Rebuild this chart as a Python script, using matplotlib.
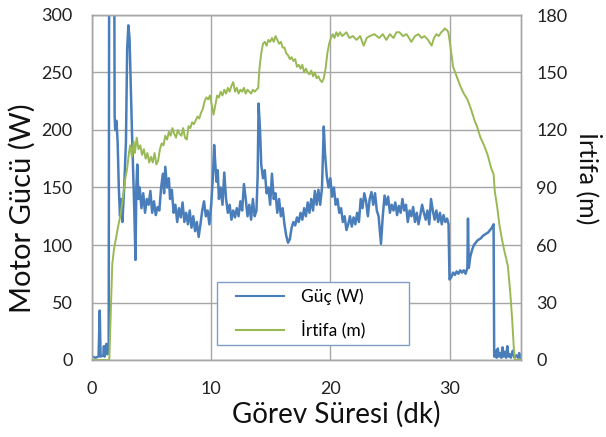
import matplotlib

matplotlib.use("Agg")
import matplotlib.pyplot as plt
from matplotlib.legend_handler import HandlerLine2D

plt.rcParams["font.family"] = ["Lato", "DejaVu Sans"]

BLUE = "#4A7EBB"
GREEN = "#98B954"
GRID = "#A6A6A6"

# Motor power (W) vs mission time (min)
power_t = [
    0.0, 0.3, 0.55, 0.65, 0.72, 0.95, 1.0, 1.05, 1.2, 1.28, 1.4, 1.45, 1.85, 1.9,
    1.95, 2.05, 2.15, 2.25, 2.35, 2.45, 2.55, 2.7, 2.85, 2.95, 3.05, 3.15, 3.25,
    3.35, 3.45, 3.55, 3.65, 3.72, 3.8, 3.9,
    4.0, 4.15, 4.3, 4.45, 4.6, 4.75, 4.9, 5.05, 5.2, 5.35, 5.5, 5.65, 5.8, 5.95,
    6.05, 6.15, 6.3, 6.45, 6.55, 6.7, 6.85, 7.0, 7.15, 7.3, 7.45, 7.6, 7.75, 7.9,
    8.05, 8.2, 8.35, 8.5, 8.65, 8.8, 8.95, 9.1, 9.25, 9.4, 9.55, 9.7, 9.85,
    10.0, 10.15, 10.25, 10.35, 10.45, 10.55, 10.65, 10.8, 10.95, 11.1, 11.25,
    11.4, 11.55, 11.7, 11.85, 12.0, 12.15, 12.3, 12.45, 12.6, 12.75, 12.9,
    13.05, 13.2, 13.35, 13.5, 13.65, 13.8, 13.9, 13.98, 14.1, 14.2, 14.35, 14.5,
    14.65, 14.8, 14.95, 15.1, 15.25, 15.4, 15.55, 15.7, 15.85, 16.0, 16.15,
    16.3, 16.45, 16.6, 16.75, 16.9, 17.05, 17.2, 17.35, 17.5, 17.65, 17.8,
    17.95, 18.1, 18.25, 18.4, 18.55, 18.7, 18.85, 19.0, 19.15, 19.3, 19.45,
    19.55, 19.7, 19.85, 20.0, 20.15, 20.3, 20.45, 20.6, 20.75, 20.9, 21.05,
    21.2, 21.35, 21.5, 21.65, 21.8, 21.95, 22.1, 22.25, 22.4, 22.55, 22.7,
    22.85, 23.0, 23.15, 23.3, 23.45, 23.6, 23.75, 23.9, 24.05, 24.25, 24.4,
    24.55, 24.7, 24.85, 25.0, 25.15, 25.3, 25.45, 25.6, 25.75, 25.9, 26.05,
    26.2, 26.35, 26.5, 26.65, 26.8, 26.95, 27.1, 27.25, 27.4, 27.55, 27.7,
    27.85, 28.0, 28.15, 28.3, 28.45, 28.6, 28.75, 28.9, 29.05, 29.2, 29.35,
    29.5, 29.65, 29.8, 29.92, 30.0, 30.15, 30.3, 30.45, 30.6, 30.75, 30.9,
    31.05, 31.2, 31.35, 31.5, 31.55, 31.62, 31.75, 31.9, 32.05, 32.2, 32.35,
    32.5, 32.65, 32.8, 32.95, 33.1, 33.25, 33.4, 33.55, 33.7, 33.75, 33.85,
    33.95, 34.05, 34.15, 34.25, 34.35, 34.45, 34.55, 34.65, 34.75, 34.85,
    34.95, 35.05, 35.15, 35.3, 35.45, 35.6, 35.75, 35.85, 35.95,
]
power_w = [
    3, 2, 3, 43, 3, 4, 12, 3, 14, 5, 8, 420, 420, 212,
    200, 208, 190, 150, 125, 140, 120, 150, 190, 270, 291, 280, 240,
    200, 165, 130, 87, 150, 170, 140,
    150, 132, 145, 128, 140, 135, 147, 128, 138, 126, 133, 130, 150, 162,
    145, 168, 150, 158, 140, 148, 128, 135, 120, 132, 124, 137, 120, 128,
    118, 130, 115, 125, 112, 120, 107, 118, 130, 138, 125, 130, 118,
    135, 160, 187, 170, 155, 165, 140, 150, 135, 163, 140,
    128, 135, 122, 130, 124, 132, 125, 138, 130, 153, 140,
    125, 135, 122, 140, 125, 130, 160, 223, 200, 170, 158, 165,
    145, 150, 135, 162, 140, 145, 128, 140, 125, 132, 118,
    108, 102, 105, 115, 120, 117, 124, 120, 128, 122, 132,
    125, 137, 128, 140, 130, 147, 135, 148, 135, 150, 203,
    180, 160, 150, 158, 142, 150, 135, 140, 128, 132, 120,
    125, 113, 118, 125, 116, 124, 118, 128, 120, 140, 132,
    145, 138, 125, 140, 146, 135, 145, 130, 125, 101, 125,
    143, 135, 142, 128, 135, 130, 137, 126, 134, 128, 140,
    130, 135, 120, 130, 125, 133, 120, 128, 118, 126, 135,
    128, 122, 130, 118, 140, 130, 122, 130, 120, 128, 118,
    126, 120, 123, 118, 70, 72, 76, 74, 77, 75, 78,
    76, 78, 75, 80, 123, 80, 90, 96, 100, 102, 104,
    105, 106, 108, 109, 110, 111, 113, 115, 118, 3, 8,
    2, 10, 3, 6, 2, 11, 3, 7, 2, 12,
    3, 5, 2, 8, 2, 4, 2, 6, 2,
]

# Altitude (m) vs mission time (min)
alt_t = [
    0.0, 1.45, 1.55, 1.7, 1.85, 2.0, 2.2, 2.4, 2.6, 2.8, 2.95, 3.1, 3.2, 3.35,
    3.5, 3.6, 3.75, 3.9, 4.05, 4.2, 4.35, 4.5, 4.65, 4.8, 4.95, 5.1, 5.25, 5.4,
    5.55, 5.7, 5.85, 6.0, 6.15, 6.3, 6.45, 6.6, 6.75, 6.9, 7.05, 7.2, 7.35,
    7.5, 7.65, 7.8, 7.95, 8.1, 8.25, 8.4, 8.55, 8.7, 8.85, 9.0, 9.15, 9.3,
    9.45, 9.6, 9.75, 9.9, 10.05, 10.2, 10.35, 10.5, 10.65, 10.8, 10.95, 11.1,
    11.25, 11.4, 11.55, 11.7, 11.85, 12.0, 12.15, 12.3, 12.45, 12.6, 12.75,
    12.9, 13.05, 13.2, 13.35, 13.5, 13.65, 13.8, 13.95, 14.05, 14.2, 14.35,
    14.5, 14.65, 14.8, 14.95, 15.1, 15.25, 15.4, 15.55, 15.7, 15.85, 16.0,
    16.15, 16.3, 16.45, 16.6, 16.75, 16.9, 17.05, 17.2, 17.35, 17.5, 17.65,
    17.8, 17.95, 18.1, 18.25, 18.4, 18.55, 18.7, 18.85, 19.0, 19.15, 19.3,
    19.45, 19.6, 19.75, 19.9, 20.05, 20.2, 20.35, 20.5, 20.65, 20.8, 21.0,
    21.35, 21.6, 21.9, 22.2, 22.5, 22.8, 23.05, 23.3, 23.7, 24.1, 24.4, 24.7,
    25.0, 25.3, 25.55, 25.8, 26.1, 26.4, 26.6, 26.8, 27.1, 27.4, 27.65, 27.9,
    28.2, 28.5, 28.7, 28.9, 29.1, 29.3, 29.5, 29.6, 29.8, 29.9, 30.05, 30.3,
    30.6, 30.9, 31.2, 31.5, 31.8, 32.1, 32.3, 32.6, 32.9, 33.2, 33.5, 33.7,
    33.8, 34.0, 34.2, 34.4, 34.6, 34.9, 35.1, 35.25, 35.4, 35.5, 36.0,
]
alt_m = [
    0, 0, 20, 50, 58, 63, 70, 76, 85, 95, 100, 108, 112, 106,
    114, 108, 116, 110, 112, 107, 110, 105, 108, 103, 106, 103, 108, 102,
    104, 110, 113, 112, 117, 115, 119, 117, 121, 118, 116, 120, 118,
    117, 121, 116, 115, 122, 121, 124, 123, 125, 127, 126, 129, 131,
    135, 137, 136, 138, 133, 128, 133, 138, 137, 140, 138, 141,
    139, 142, 140, 143, 145, 140, 142, 139, 141, 140, 142,
    139, 141, 140, 139, 141, 140, 141, 142, 152, 160, 165,
    166, 164, 167, 166, 168, 166, 169, 167, 165, 166, 163,
    163, 160, 159, 157, 158, 156, 157, 153, 154, 152, 154,
    150, 152, 150, 149, 151, 148, 150, 147, 148, 146, 145,
    147, 152, 160, 165, 168, 170, 168, 171, 169, 171, 169,
    171, 168, 169, 167, 169, 164, 168, 169, 170, 168, 170, 167,
    170, 168, 171, 171, 169, 170, 168, 166, 169, 170, 168, 169,
    167, 164, 168, 170, 169, 171, 172, 173, 172, 171, 165, 153,
    148, 143, 139, 136, 131, 125, 122, 116, 112, 107, 100, 97,
    88, 80, 70, 63, 57, 49, 35, 22, 6, 0, 0,
]

fig = plt.figure(figsize=(6.06, 4.37), dpi=100)
ax = fig.add_axes([92 / 606, 77 / 437, 429 / 606, 345 / 437])
ax2 = ax.twinx()

(l1,) = ax.plot(power_t, power_w, color=BLUE, lw=1.8, label="Güç (W)")
(l2,) = ax2.plot(alt_t, alt_m, color=GREEN, lw=1.4, label="İrtifa (m)")

ax.set_xlim(0, 36)
ax.set_ylim(0, 300)
ax2.set_ylim(0, 180)
ax.set_xticks([0, 10, 20, 30])
ax.set_yticks(range(0, 301, 50))
ax2.set_yticks(range(0, 181, 30))

ax.grid(True, color=GRID, lw=1)
ax.set_axisbelow(True)
for a in (ax, ax2):
    for s in a.spines.values():
        s.set_color(GRID)
        s.set_linewidth(1)

ax.tick_params(axis="y", length=0, labelsize=13, pad=14, colors="#222222")
ax.tick_params(axis="x", length=0, labelsize=13, pad=15, colors="#222222")
ax2.tick_params(axis="y", length=0, labelsize=13, pad=11, colors="#222222")

ax.set_xlabel("Görev Süresi (dk)", fontsize=20, color="#111111")
ax.xaxis.set_label_coords(0.569, -0.118)
ax.set_ylabel("Motor Gücü (W)", fontsize=21, color="#111111")
ax.yaxis.set_label_coords(-0.131, 0.44)
ax2.set_ylabel("İrtifa (m)", fontsize=18, color="#111111", rotation=270, va="bottom")
ax2.yaxis.set_label_coords(1.128, 0.527)

leg = ax2.legend(
    [l1, l2],
    ["Güç (W)", "İrtifa (m)"],
    loc="lower left",
    bbox_to_anchor=(0.291, 0.0435, 0.448, 0.191),
    mode="expand",
    fontsize=12.5,
    frameon=True,
    fancybox=False,
    framealpha=1,
    edgecolor="#7F9DC6",
    handlelength=3.5,
    handletextpad=1.0,
    labelspacing=0.9,
    borderpad=0.35,
    borderaxespad=0,
    handler_map={l1: HandlerLine2D(xpad=0.75), l2: HandlerLine2D(xpad=0.75)},
)
leg.get_frame().set_linewidth(1)
for line in leg.get_lines():
    line.set_linewidth(1.5)

fig.savefig("out.png", dpi=100)
